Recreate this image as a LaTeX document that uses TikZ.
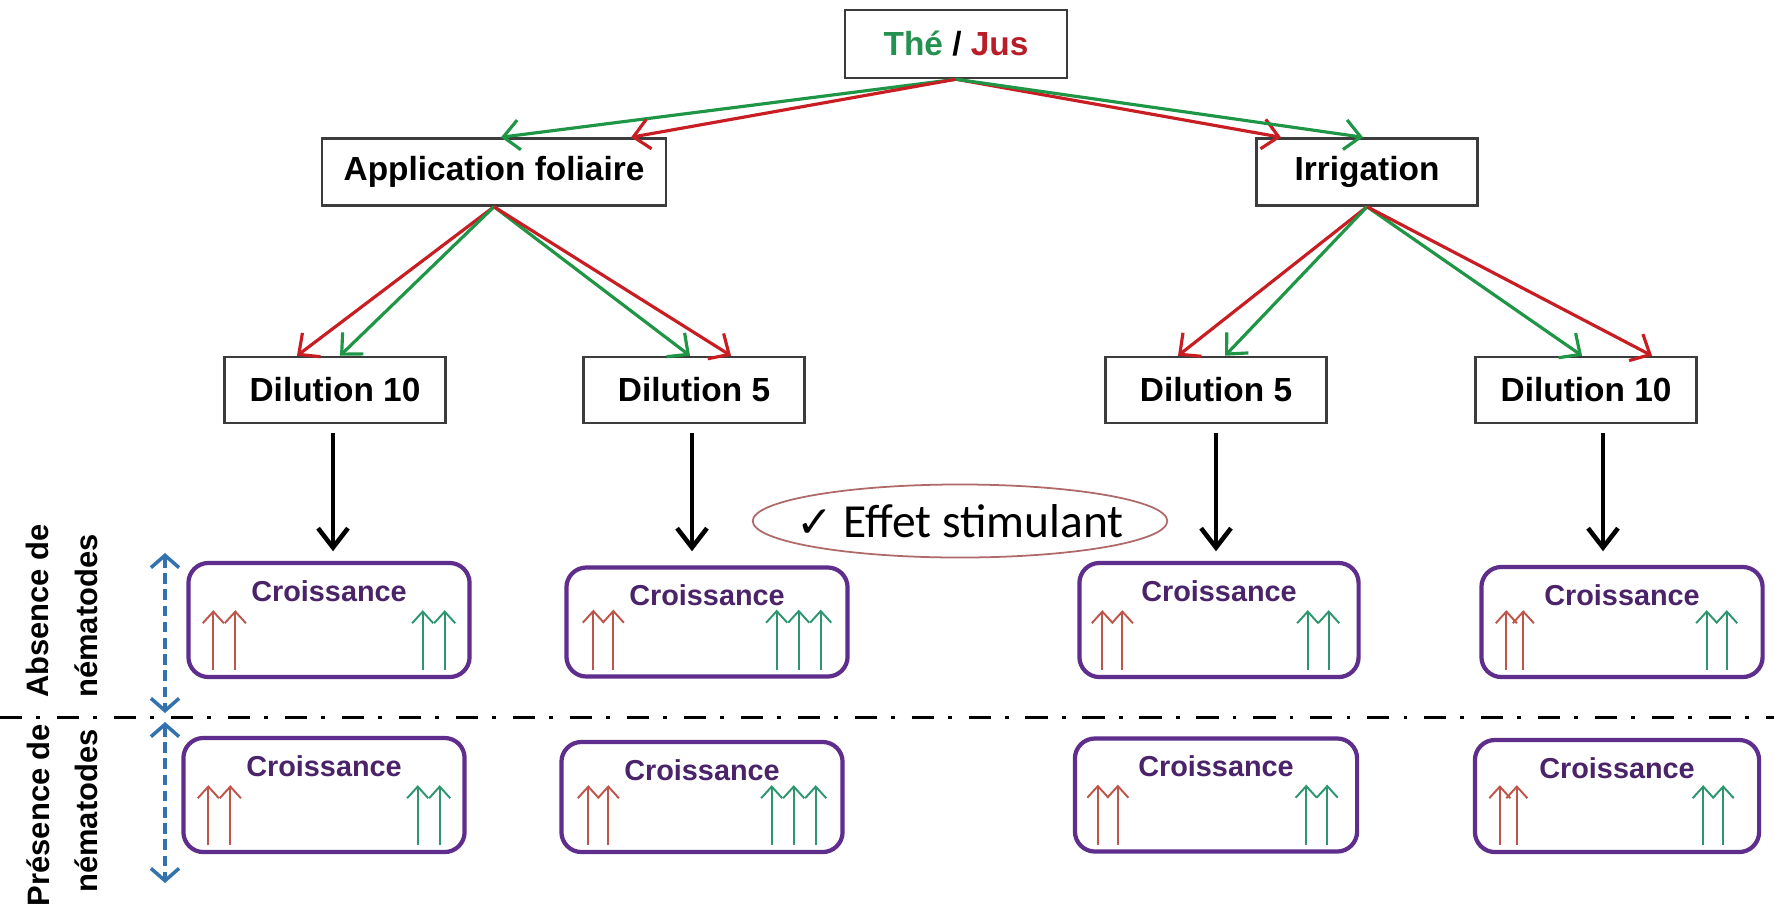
\documentclass[tikz,border=0pt]{standalone}
\usepackage{fontspec}
\setmainfont{Liberation Sans}
\newfontfamily\carl{Carlito}
\newfontfamily\dejavu{DejaVu Sans}
\usetikzlibrary{arrows.meta,shapes.geometric,calc}

\definecolor{thegreen}{RGB}{35,145,80}
\definecolor{jusred}{RGB}{185,30,40}
\definecolor{trgreen}{RGB}{30,150,70}
\definecolor{trred}{RGB}{200,30,35}
\definecolor{boxpurple}{RGB}{95,45,140}
\definecolor{txtpurple}{RGB}{75,35,105}
\definecolor{smred}{RGB}{190,85,75}
\definecolor{smgreen}{RGB}{45,150,110}
\definecolor{dblue}{RGB}{50,115,175}
\definecolor{ellcol}{RGB}{175,105,105}
\definecolor{boxgray}{RGB}{60,60,60}

\begin{document}
\begin{tikzpicture}[x=0.01cm,y=-0.01cm,
  plain/.style={draw=boxgray, line width=0.7pt, minimum width=2.21cm, minimum height=0.66cm,
    font=\fontsize{9.5}{11}\selectfont\bfseries, inner sep=0pt},
  cbox/.style={draw=boxpurple, line width=1.2pt, rounded corners=0.2cm,
    minimum width=2.81cm, minimum height=1.12cm, inner sep=0pt},
  ctext/.style={font=\fontsize{8.2}{10}\selectfont\bfseries, text=txtpurple, inner sep=0pt},
  tg/.style={draw=trgreen, line width=0.9pt, -{Straight Barb[length=4.5pt,width=8.5pt]}},
  tr/.style={draw=trred, line width=0.9pt, -{Straight Barb[length=4.5pt,width=8.5pt]}},
  blk/.style={draw=black, line width=1.3pt, -{Straight Barb[length=5.5pt,width=8.5pt]}},
  sr/.style={draw=smred, line width=0.55pt, -{Straight Barb[length=3.3pt,width=6pt]}},
  sg/.style={draw=smgreen, line width=0.55pt, -{Straight Barb[length=3.3pt,width=6pt]}},
  bl/.style={draw=dblue, line width=1pt, dash pattern=on 3pt off 1.6pt,
    {Straight Barb[length=3.5pt,width=8pt]}-{Straight Barb[length=3.5pt,width=8pt]}},
  dd/.style={draw=black, line width=0.85pt, dash pattern=on 6.3pt off 4pt on 1.1pt off 4.8pt},
  lab/.style={rotate=90, font=\fontsize{8.8}{10}\selectfont\bfseries, inner sep=0pt}
]
\fill[white] (0,0) rectangle (1774,909);
\useasboundingbox (0,0) rectangle (1774,909);

% tree boxes
\node[plain, minimum width=2.22cm, minimum height=0.68cm] (the) at (956,44)
  {\textcolor{thegreen}{Thé} / \textcolor{jusred}{Jus}};
\node[plain, minimum width=3.44cm, minimum height=0.67cm] (app) at (494,172) {Application foliaire};
\node[plain, minimum height=0.67cm] (irr) at (1367,172) {Irrigation};
\node[plain] (d1) at (335,390) {Dilution 10};
\node[plain] (d2) at (694,390) {Dilution 5};
\node[plain] (d3) at (1216,390) {Dilution 5};
\node[plain] (d4) at (1586,390) {Dilution 10};

% tree arrows
\draw[tg] (the.south) -- ([xshift=0.07cm]app.north);
\draw[tr] (the.south) -- ([xshift=1.37cm]app.north);
\draw[tr] (the.south) -- ([xshift=-0.86cm]irr.north);
\draw[tg] (the.south) -- ([xshift=-0.04cm]irr.north);
\draw[tr] (app.south) -- ([xshift=-0.38cm]d1.north);
\draw[tg] (app.south) -- ([xshift=0.05cm]d1.north);
\draw[tg] (app.south) -- ([xshift=-0.04cm]d2.north);
\draw[tr] (app.south) -- ([xshift=0.37cm]d2.north);
\draw[tr] (irr.south) -- ([xshift=-0.38cm]d3.north);
\draw[tg] (irr.south) -- ([xshift=0.09cm]d3.north);
\draw[tg] (irr.south) -- ([xshift=-0.04cm]d4.north);
\draw[tr] (irr.south) -- ([xshift=0.66cm]d4.north);

% black arrows
\draw[blk] (d1.south) ++(-2,9) -- ++(0,118);
\draw[blk] (d2.south) ++(-2,9) -- ++(0,118);
\draw[blk] (d3.south) ++(0,9) -- ++(0,118);
\draw[blk] (d4.south) ++(17,9) -- ++(0,118);

% effect ellipse
\node[ellipse, draw=ellcol, line width=0.5pt, minimum width=4.04cm, minimum height=0.73cm,
  inner xsep=-0.17cm, inner ysep=0pt, font=\carl\fontsize{13.5}{15}\selectfont] (eff) at (960,521)
  {{\dejavu\fontsize{12.5}{14}\selectfont ✓}\ Effet stimulant};

% croissance boxes
\node[cbox, minimum height=1.14cm] (c1) at (329,620) {};
\node[cbox, minimum height=1.09cm] (c2) at (707,622) {};
\node[cbox, minimum height=1.14cm, minimum width=2.79cm] (c3) at (1219,620) {};
\node[cbox, minimum height=1.10cm] (c4) at (1622,622) {};
\node[cbox, minimum height=1.14cm] (b1) at (324,795) {};
\node[cbox, minimum height=1.10cm] (b2) at (702,797) {};
\node[cbox, minimum height=1.13cm, minimum width=2.82cm] (b3) at (1216,795) {};
\node[cbox, minimum height=1.12cm, minimum width=2.84cm] (b4) at (1617,796) {};

\foreach \b in {c1,c2,c3,c4,b1,b2,b3,b4}
  \node[ctext] (t\b) at ([yshift=-0.30cm]\b.north) {Croissance};

% small arrows
\foreach \b/\rr/\gg in {c1/{27,49}/{49,27}, c2/{29,49}/{73,51,29}, c3/{25,45}/{53,32},
    c4/{27,44}/{58,38}, b1/{27,49}/{49,27}, b2/{29,49}/{73,51,29}, b3/{25,45}/{53,32},
    b4/{27,44}/{58,38}}{
  \foreach \dx in \rr \draw[sr] (\b.south west) ++(\dx,-9) -- ++(0,-60);
  \foreach \dx in \gg \draw[sg] (\b.south east) ++(-\dx,-9) -- ++(0,-60);
}

% separator and side arrows
\coordinate (sepL) at (0,717);
\coordinate (sepR) at (1774,717);
\draw[dd] (sepL) -- (sepR);
\coordinate (ua) at (165,553);
\coordinate (ub) at (165,713);
\coordinate (la) at (165,722);
\coordinate (lb) at (165,883);
\draw[bl] (ua) -- (ub);
\draw[bl] (la) -- (lb);

% side labels
\node[lab] (abs1) at (37,611) {Absence de};
\node[lab] (abs2) at (86,616) {nématodes};
\node[lab] (pre1) at (38,815) {Présence de};
\node[lab] (pre2) at (86,811) {nématodes};
\end{tikzpicture}
\end{document}
